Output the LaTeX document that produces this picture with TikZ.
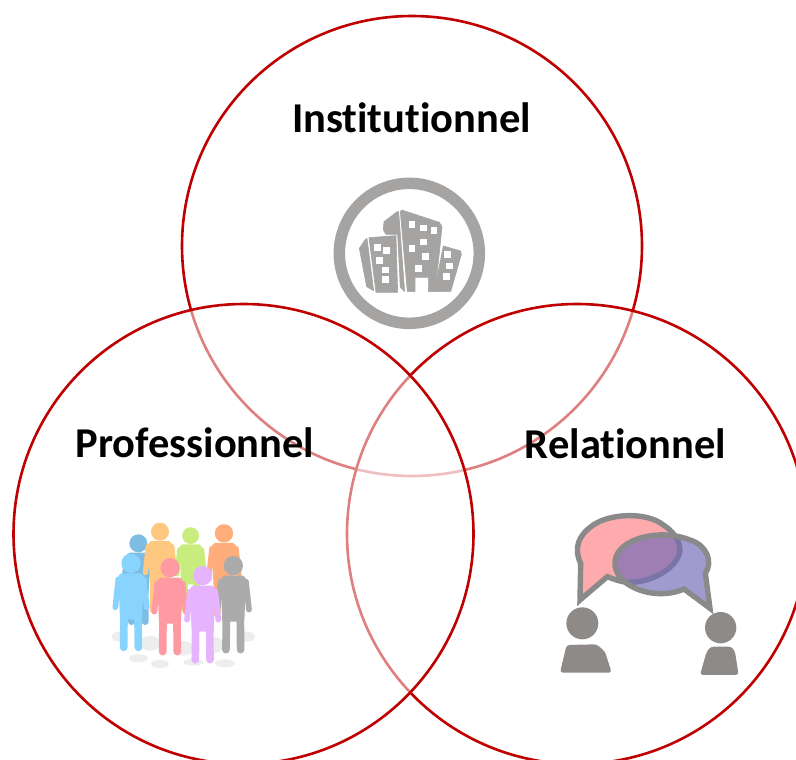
\documentclass[tikz,border=0pt]{standalone}
\usepackage{fontspec}
\setmainfont[Ligatures=NoCommon]{Carlito}
\definecolor{ringred}{HTML}{C00000}
\definecolor{icongray}{HTML}{A5A4A3}
\definecolor{talkgray}{HTML}{8E8A88}
\definecolor{bubbleline}{HTML}{8A8A8A}
\definecolor{pdark}{HTML}{7DBDE3}
\definecolor{porange}{HTML}{FFC880}
\definecolor{pgreen}{HTML}{C9EC7E}
\definecolor{ppeach}{HTML}{FFAD7A}
\definecolor{pblue}{HTML}{89D4FF}
\definecolor{ppink}{HTML}{FF9AA2}
\definecolor{plilac}{HTML}{E6B3FF}
\definecolor{pgray}{HTML}{ABABAB}
\definecolor{bubblepink}{HTML}{FFAAAD}
\definecolor{bubbleblue}{HTML}{716BB7}
\tikzset{
  venn/.style={circle,draw=ringred,line width=2.6pt,minimum size=460pt,inner sep=0pt,outer sep=0pt},
  venntop/.style={venn,fill=white},
  vennsoft/.style={venn,fill=white,fill opacity=.5,draw opacity=1},
  title/.style={font=\fontsize{42.5}{48}\selectfont\bfseries,anchor=base,inner sep=0pt,text=black},
  win/.style={fill=white},
  bld/.style={fill=icongray,draw=icongray,line width=.6pt,line join=round},
  shade/.style={fill=black!7},
  bubble/.style={draw=bubbleline,line width=5.4pt,line join=miter}
}
% head centre x, y (in the enclosing units), size factor, colour
\newcommand{\iconperson}[4]{%
  \begin{scope}[shift={(#1,#2)},x=#3*.3333pt,y=-#3*.3333pt]
    \fill[#4] (0,0) circle (29);
    \fill[#4,rounded corners=#3*2pt] (-34,30) -- (34,30) -- (38,40) -- (33,168) -- (-33,168) -- (-38,40) -- cycle;
    \draw[#4,line cap=round,line join=round,line width=#3*5.7pt] (-38,48) -- (-47,132);
    \draw[#4,line cap=round,line join=round,line width=#3*5.7pt] (38,48) -- (47,132);
    \draw[#4,line cap=round,line width=#3*7.7pt] (-21,160) -- (-22,252);
    \draw[#4,line cap=round,line width=#3*7.7pt] (21,160) -- (22,252);
  \end{scope}}
\begin{document}
\begin{tikzpicture}[x=1pt,y=-1pt]
\useasboundingbox (0,0) rectangle (796,760);
\clip (0,0) rectangle (796,760);
\fill[white] (0,0) rectangle (796,760);
\node[venntop]  (top)   at (412,246) {};
\node[vennsoft] (right) at (577,534) {};
\node[vennsoft] (left)  at (243.5,534) {};

% building icon
\begin{scope}[shift={(320,170)},x=.3333pt,y=-.3333pt]
  \draw[icongray,line width=11.5pt] (268,250) circle (210);
  \path[bld] (245,120) -- (358,157) -- (366,170) -- (346,365) -- (325,365) -- (325,322) -- (285,322) -- (285,365) -- (262,365) -- (241,125) -- cycle;
  \path[bld] (232,125) -- (192,155) -- (190,180) -- (198,193) -- (233,193) -- (241,352) -- (254,365) -- (236,125) -- cycle;
  \path[bld] (147,203) -- (228,197) -- (233,367) -- (168,367) -- cycle;
  \path[bld] (135,210) -- (118,235) -- (140,350) -- (161,362) -- (141,205) -- cycle;
  \path[bld] (370,228) -- (422,243) -- (424,254) -- (392,365) -- (343,365) -- cycle;
  \foreach \wx/\wy in {276/164,311/174,342/182,311/216,276/236,316/260,295/296,172/232,200/242,178/272,196/300,197/328,382/254,388/288,380/320}
    \fill[win] (\wx-10,\wy-10) rectangle (\wx+10,\wy+10);
\end{scope}

% group of people
\begin{scope}[shift={(100,515)},x=.3333pt,y=-.3333pt]
  \foreach \sx/\sy/\sa/\sb in {115/430/28/12,180/447/27/12,280/442/30/10,375/445/30/12,60/365/25/15,440/365/25/15,150/385/30/22,250/400/30/22,345/390/25/24}
    \fill[shade] (\sx,\sy) ellipse ({\sa} and {\sb});
  \iconperson{115}{85}{.93}{pdark}
  \iconperson{180}{50}{.93}{porange}
  \iconperson{272}{62}{.87}{pgreen}
  \iconperson{372}{55}{.95}{ppeach}
  \iconperson{93}{145}{1}{pblue}
  \iconperson{210}{158}{1}{ppink}
  \iconperson{400}{152}{1}{pgray}
  \iconperson{308}{182}{1}{plilac}
\end{scope}

% speech bubbles and speakers
\begin{scope}[shift={(550,505)},x=.3333pt,y=-.3333pt]
  \path[bubble,fill=bubblepink] (90,285) -- (92,175) .. controls (70,130) and (85,90) .. (130,60) .. controls (180,25) and (290,20) .. (340,60) .. controls (365,75) and (390,105) .. (390,135) .. controls (385,190) and (300,235) .. (232,232) .. controls (210,230) and (190,222) .. (172,215) -- cycle;
  \path[bubble,fill=bubbleblue,fill opacity=.67] (480,310) -- (466,205) .. controls (490,170) and (470,120) .. (420,105) .. controls (360,80) and (270,85) .. (220,125) .. controls (180,160) and (190,205) .. (230,235) .. controls (280,270) and (350,275) .. (402,252) -- cycle;
  \fill[talkgray] (97,355) circle (48);
  \fill[talkgray,rounded corners=3pt] (50,420) -- (140,418) -- (165,440) -- (185,503) -- (30,503) -- (45,440) -- cycle;
  \fill[talkgray] (512,368) circle (47);
  \fill[talkgray,rounded corners=3pt] (482,425) -- (545,425) -- (555,440) -- (566,510) -- (450,510) -- (470,440) -- cycle;
\end{scope}

\node[title] (inst) at (411.5,132) {Institutionnel};
\node[title] (prof) at (195,457.5) {Professionnel};
\node[title] (rela) at (625.5,458) {Relationnel};
\end{tikzpicture}
\end{document}
